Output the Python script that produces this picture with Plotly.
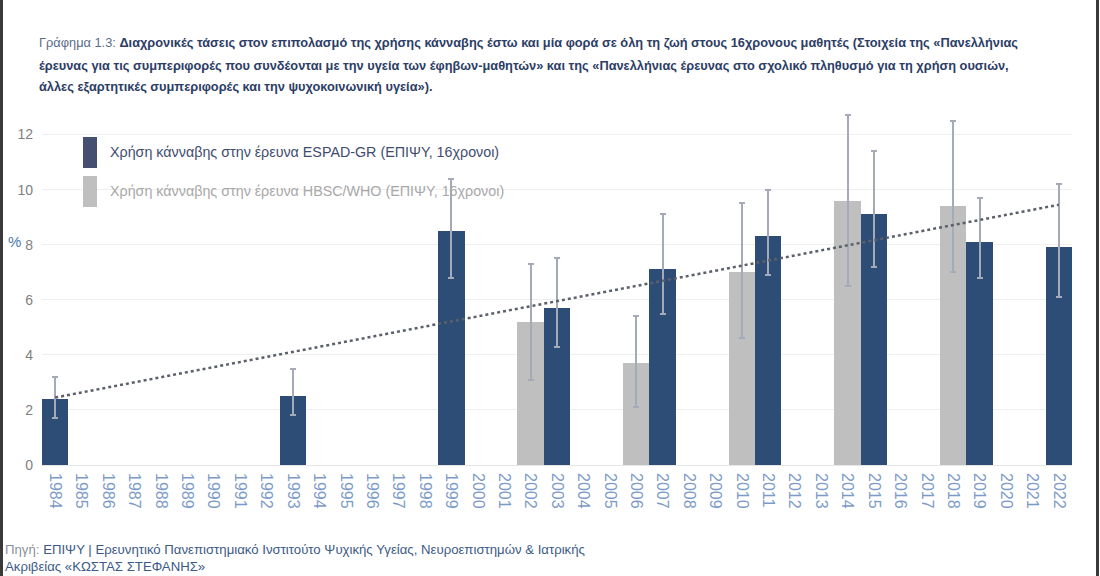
import plotly.graph_objects as go

# ---------------- data ----------------
years = [str(y) for y in range(1984, 2023)]

espad_years = ["1984", "1993", "1999", "2003", "2007", "2011", "2015", "2019", "2022"]
espad_values = [2.4, 2.5, 8.5, 5.7, 7.1, 8.3, 9.1, 8.1, 7.9]
espad_upper = [3.2, 3.5, 10.4, 7.5, 9.1, 10.0, 11.4, 9.7, 10.2]
espad_lower = [1.7, 1.8, 6.8, 4.3, 5.5, 6.9, 7.2, 6.8, 6.1]

hbsc_years = ["2002", "2006", "2010", "2014", "2018"]
hbsc_values = [5.2, 3.7, 7.0, 9.6, 9.4]
hbsc_upper = [7.3, 5.4, 9.5, 12.7, 12.5]
hbsc_lower = [3.1, 2.1, 4.6, 6.5, 7.0]

trend_years = ["1984", "2022"]
trend_values = [2.45, 9.45]

y_ticks = [0, 2, 4, 6, 8, 10, 12]

espad_name = "Χρήση κάνναβης στην έρευνα ESPAD-GR (ΕΠΙΨΥ, 16χρονοι)"
hbsc_name = "Χρήση κάνναβης στην έρευνα HBSC/WHO (ΕΠΙΨΥ, 16χρονοι)"

title_lines = [
    "Διαχρονικές τάσεις στον επιπολασμό της χρήσης κάνναβης έστω και μία φορά σε όλη τη ζωή στους 16χρονους μαθητές (Στοιχεία της «Πανελλήνιας",
    "έρευνας για τις συμπεριφορές που συνδέονται με την υγεία των έφηβων-μαθητών» και της «Πανελλήνιας έρευνας στο σχολικό πληθυσμό για τη χρήση ουσιών,",
    "άλλες εξαρτητικές συμπεριφορές και την ψυχοκοινωνική υγεία»).",
]
title_prefix = "Γράφημα 1.3: "
source_prefix = "Πηγή: "
source_lines = [
    "ΕΠΙΨΥ | Ερευνητικό Πανεπιστημιακό Ινστιτούτο Ψυχικής Υγείας, Νευροεπιστημών & Ιατρικής",
    "Ακριβείας «ΚΩΣΤΑΣ ΣΤΕΦΑΝΗΣ»",
]

# ---------------- styling ----------------
W, H = 1100, 576
L, R, T, B = 42, 28, 107, 111
PW, PH = W - L - R, H - T - B
FONT = "Liberation Sans, Arial, sans-serif"
BLUE = "#2d4d76"
GREY = "#bfbfbf"
ERR = "#a4aab8"


def px(x):
    return (x - L) / PW


def py(y):
    return (H - B - y) / PH


fig = go.Figure()

fig.add_trace(go.Bar(
    x=hbsc_years, y=hbsc_values, name=hbsc_name, width=1,
    marker=dict(color=GREY, line=dict(width=0)),
    error_y=dict(type="data", symmetric=False,
                 array=[u - v for u, v in zip(hbsc_upper, hbsc_values)],
                 arrayminus=[v - l for v, l in zip(hbsc_values, hbsc_lower)],
                 color=ERR, thickness=2, width=3),
    showlegend=False,
))
fig.add_trace(go.Bar(
    x=espad_years, y=espad_values, name=espad_name, width=1,
    marker=dict(color=BLUE, line=dict(width=0)),
    error_y=dict(type="data", symmetric=False,
                 array=[u - v for u, v in zip(espad_upper, espad_values)],
                 arrayminus=[v - l for v, l in zip(espad_values, espad_lower)],
                 color=ERR, thickness=2, width=3),
    showlegend=False,
))
fig.add_trace(go.Scatter(
    x=trend_years, y=trend_values, mode="lines",
    line=dict(color="#5b606b", width=2.5, dash="dot"),
    showlegend=False, hoverinfo="skip",
))

shapes = [
    # legend swatches
    dict(type="rect", xref="paper", yref="paper", x0=px(83), x1=px(97), y0=py(168), y1=py(137),
         fillcolor="#454f70", line=dict(width=0)),
    dict(type="rect", xref="paper", yref="paper", x0=px(83), x1=px(97), y0=py(207), y1=py(176),
         fillcolor=GREY, line=dict(width=0)),
    # dark frame edges
    dict(type="line", xref="paper", yref="paper", x0=px(1.5), x1=px(1.5), y0=py(0), y1=py(576),
         line=dict(color="#3a3a3a", width=3)),
    dict(type="line", xref="paper", yref="paper", x0=px(1097.5), x1=px(1097.5), y0=py(0), y1=py(576),
         line=dict(color="#3a3a3a", width=3)),
]

annotations = [
    dict(xref="paper", yref="paper", x=px(108), y=py(152), xanchor="left", yanchor="middle",
         text=espad_name, showarrow=False, font=dict(family=FONT, size=14.3, color="#3f4c6d")),
    dict(xref="paper", yref="paper", x=px(108), y=py(191), xanchor="left", yanchor="middle",
         text=hbsc_name, showarrow=False, font=dict(family=FONT, size=14.3, color="#a8a8a8")),
    dict(xref="paper", yref="paper", x=px(6), y=py(241), xanchor="left", yanchor="middle",
         text="%", showarrow=False, font=dict(family=FONT, size=15, color="#4a78b0")),
]

title_y = [43, 65, 87]
for i, (line, yy) in enumerate(zip(title_lines, title_y)):
    txt = "<b>" + line + "</b>"
    if i == 0:
        txt = "<span style='color:#5a6b8a'>" + title_prefix + "</span>" + txt
    annotations.append(dict(xref="paper", yref="paper", x=px(37), y=py(yy), xanchor="left",
                            yanchor="middle", text=txt, showarrow=False,
                            font=dict(family=FONT, size=12.8, color="#2c3d66")))

src_y = [549, 566]
for i, (line, yy) in enumerate(zip(source_lines, src_y)):
    txt = line
    if i == 0:
        txt = "<span style='color:#8a8f99'>" + source_prefix + "</span>" + line
    annotations.append(dict(xref="paper", yref="paper", x=px(3), y=py(yy), xanchor="left",
                            yanchor="middle", text=txt, showarrow=False,
                            font=dict(family=FONT, size=13.2, color="#3c5a86")))

fig.update_layout(
    width=W, height=H,
    margin=dict(l=L, r=R, t=T, b=B, autoexpand=False),
    paper_bgcolor="white", plot_bgcolor="white",
    barmode="overlay", bargap=0,
    shapes=shapes, annotations=annotations,
    showlegend=False,
    xaxis=dict(type="category", categoryorder="array", categoryarray=years,
               range=[-0.5, len(years) - 0.5],
               tickangle=90, tickfont=dict(family=FONT, size=16, color="#7c9bc8"),
               ticklabelstandoff=7,
               showgrid=False, showline=False, ticks="", zeroline=False),
    yaxis=dict(range=[0, 13], tickvals=y_ticks, showgrid=True, gridcolor="#efefef",
               gridwidth=1, zeroline=True, zerolinecolor="#e6e6e6", zerolinewidth=1,
               tickfont=dict(family=FONT, size=14, color="#7f7f7f"), ticks="",
               ticklabelstandoff=8, showline=False),
)

fig.write_html("out.html", config={"displayModeBar": False},
               post_script="document.body.style.margin='0';")
